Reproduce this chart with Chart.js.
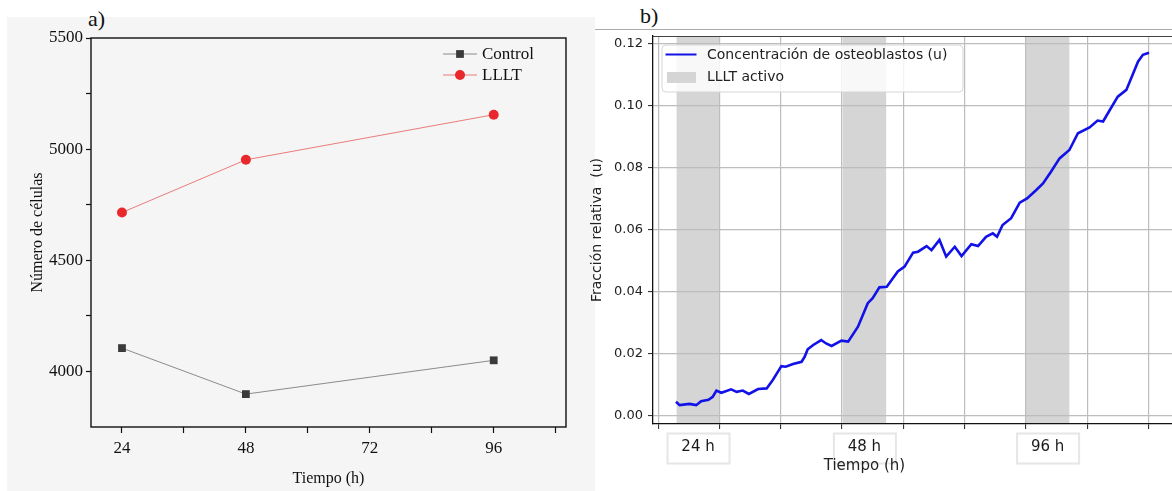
<!DOCTYPE html>
<html>
<head>
<meta charset="utf-8">
<script src="https://cdn.jsdelivr.net/npm/chart.js@4.4.0/dist/chart.umd.min.js"></script>
<style>
  body { margin: 0; width: 1172px; height: 491px; overflow: hidden; background: #fff; position: relative; }
  .abs { position: absolute; }
  .tag { position: absolute; font-family: 'Liberation Serif', serif; font-size: 22px; color: #111; line-height: 1; }
</style>
</head>
<body>
<div class="abs" style="left:7px;top:17px;width:588px;height:474px;background:#f5f5f5"></div>
<div class="abs" style="left:595px;top:29px;width:577px;border-top:1px solid #aaa"></div>
<div class="tag" style="left:88px;top:8px">a)</div>
<div class="tag" style="left:640px;top:5px">b)</div>
<canvas id="chartA" class="abs" width="580" height="491" style="left:0;top:0"></canvas>
<canvas id="chartB" class="abs" width="592" height="491" style="left:580px;top:0"></canvas>
<script>
// ---- panel a) : numero de celulas ----
const timeH = [24, 48, 96]
const controlCells = [4105, 3898, 4050]
const llltCells = [4715, 4952, 5155]
const xTicksA = [24, 36, 48, 60, 72, 84, 96, 108]
const yTicksA = [4000, 4250, 4500, 4750, 5000, 5250, 5500]

// ---- panel b) : fraccion relativa de osteoblastos ----
const curveX = [0.29, 0.35, 0.51, 0.62, 0.70, 0.82, 0.89, 0.95, 1.03, 1.19, 1.28, 1.38, 1.48, 1.63, 1.77,
  1.87, 2.01, 2.08, 2.20, 2.34, 2.39, 2.44, 2.53, 2.66, 2.74, 2.83, 2.99, 3.10, 3.26, 3.42,
  3.50, 3.61, 3.73, 3.91, 4.02, 4.16, 4.24, 4.38, 4.46, 4.59, 4.70, 4.84, 4.95, 5.11, 5.22,
  5.35, 5.46, 5.53, 5.62, 5.76, 5.90, 6.02, 6.17, 6.28, 6.41, 6.55, 6.71, 6.85, 7.04, 7.17,
  7.26, 7.37, 7.50, 7.64, 7.83, 7.91, 8.01]
const curveU = [0.0046, 0.0035, 0.0039, 0.0035, 0.0048, 0.0052, 0.0062, 0.0082, 0.0075, 0.0086, 0.0078, 0.0082, 0.0071, 0.0087, 0.0089,
  0.0116, 0.0161, 0.0159, 0.0168, 0.0175, 0.0191, 0.0215, 0.0229, 0.0245, 0.0234, 0.0226, 0.0243, 0.0240, 0.0288, 0.0364,
  0.0380, 0.0415, 0.0417, 0.0466, 0.0482, 0.0527, 0.0530, 0.0548, 0.0535, 0.0568, 0.0514, 0.0546, 0.0516, 0.0554, 0.0548,
  0.0578, 0.0589, 0.0578, 0.0616, 0.0638, 0.0688, 0.0702, 0.0729, 0.0750, 0.0788, 0.0831, 0.0858, 0.0912, 0.0931, 0.0953,
  0.0950, 0.0987, 0.1030, 0.1052, 0.1143, 0.1165, 0.1172]
const bandStart = [0.30, 3.01, 6.00]
const bandEnd = [1.00, 3.72, 6.71]
const bandLabels = ['24 h', '48 h', '96 h']
const xTicksB = [0, 1, 2, 3, 4, 5, 6, 7, 8]
const yTicksB = [0, 0.02, 0.04, 0.06, 0.08, 0.10, 0.12]

const serif = 'Liberation Serif'
const sans = 'DejaVu Sans'

// Cadre complet + legende style Origin
const frameLegendA = {
  id: 'frameLegendA',
  afterDraw(chart) {
    const { ctx, chartArea: a } = chart
    ctx.save()
    ctx.strokeStyle = '#111'
    ctx.lineWidth = 1.4
    ctx.strokeRect(a.left, a.top, a.right - a.left, a.bottom - a.top)

    const x0 = a.right - 123
    ctx.font = '17px "' + serif + '"'
    ctx.textBaseline = 'middle'
    chart.data.datasets.forEach((ds, i) => {
      const y = a.top + 16 + i * 21
      ctx.strokeStyle = ds.borderColor
      ctx.lineWidth = ds.borderWidth
      ctx.beginPath()
      ctx.moveTo(x0, y)
      ctx.lineTo(x0 + 34, y)
      ctx.stroke()
      ctx.fillStyle = ds.pointBackgroundColor
      ctx.beginPath()
      if (ds.pointStyle === 'rect') {
        const h = ds.pointRadius * Math.SQRT1_2
        ctx.rect(x0 + 17 - h, y - h, 2 * h, 2 * h)
      } else {
        ctx.arc(x0 + 17, y, ds.pointRadius, 0, Math.PI * 2)
      }
      ctx.fill()
      ctx.fillStyle = '#111'
      ctx.fillText(ds.label, x0 + 39, y + 1)
    })
    ctx.restore()
  }
}

new Chart(document.getElementById('chartA'), {
  type: 'line',
  data: {
    datasets: [
      {
        label: 'Control',
        data: timeH.map((t, i) => ({ x: t, y: controlCells[i] })),
        borderColor: '#707070',
        borderWidth: 0.8,
        pointStyle: 'rect',
        pointRadius: 5.5,
        pointBackgroundColor: '#3a3a3a',
        pointBorderWidth: 0
      },
      {
        label: 'LLLT',
        data: timeH.map((t, i) => ({ x: t, y: llltCells[i] })),
        borderColor: '#e65c5c',
        borderWidth: 0.8,
        pointStyle: 'circle',
        pointRadius: 5,
        pointBackgroundColor: '#e8282c',
        pointBorderWidth: 0
      }
    ]
  },
  options: {
    responsive: false,
    animation: false,
    layout: { padding: { left: 0, top: 38, right: 14, bottom: 0 } },
    plugins: { legend: { display: false }, tooltip: { enabled: false } },
    scales: {
      x: {
        type: 'linear', min: 18, max: 110,
        afterBuildTicks: s => { s.ticks = xTicksA.map(v => ({ value: v })) },
        afterFit: s => { s.height = 64 },
        ticks: {
          autoSkip: false, maxRotation: 0, padding: 5, color: '#111',
          font: { family: serif, size: 17 },
          callback: v => (v % 24 === 0 ? v : '')
        },
        grid: { drawOnChartArea: false, tickLength: 6, tickColor: '#111', tickWidth: 1.2 },
        border: { display: false },
        title: { display: true, text: 'Tiempo (h)', color: '#111', font: { family: serif, size: 16 }, padding: { top: 0, bottom: 3 } }
      },
      y: {
        type: 'linear', min: 3750, max: 5500,
        afterBuildTicks: s => { s.ticks = yTicksA.map(v => ({ value: v })) },
        afterFit: s => { s.width = 91 },
        ticks: {
          autoSkip: false, padding: 3, color: '#111',
          font: { family: serif, size: 17 },
          callback: v => (v % 500 === 0 ? v : '')
        },
        grid: { drawOnChartArea: false, tickLength: 5, tickColor: '#111', tickWidth: 1.2 },
        border: { display: false },
        title: { display: true, text: 'Número de células', color: '#111', font: { family: serif, size: 16 }, padding: { top: 28, bottom: 0 } }
      }
    }
  },
  plugins: [frameLegendA]
})

// Bandes grises "LLLT activo", sous la grille
const bandsB = {
  id: 'bandsB',
  beforeDraw(chart) {
    const { ctx, chartArea: a, scales: { x } } = chart
    ctx.save()
    ctx.fillStyle = '#d5d5d5'
    bandStart.forEach((s, i) => {
      const x0 = x.getPixelForValue(s)
      const x1 = x.getPixelForValue(bandEnd[i])
      ctx.fillRect(x0, a.top, x1 - x0, a.bottom - a.top)
    })
    ctx.restore()
  }
}

// Legende matplotlib, etiquettes 24/48/96 h, titre x, bord superieur
const decorB = {
  id: 'decorB',
  afterDraw(chart) {
    const { ctx, chartArea: a, scales: { x } } = chart
    ctx.save()
    ctx.strokeStyle = '#444'
    ctx.lineWidth = 1.2
    ctx.beginPath()
    ctx.moveTo(a.left, a.top + 0.5)
    ctx.lineTo(a.right, a.top + 0.5)
    ctx.stroke()

    // legende
    const bx = a.left + 9, by = a.top + 9, bw = 301, bh = 47
    ctx.fillStyle = 'rgba(255,255,255,0.82)'
    ctx.strokeStyle = '#d6d6d6'
    ctx.lineWidth = 1
    ctx.beginPath()
    ctx.roundRect(bx, by, bw, bh, 4)
    ctx.fill()
    ctx.stroke()
    const ds = chart.data.datasets[0]
    ctx.strokeStyle = ds.borderColor
    ctx.lineWidth = 2
    ctx.beginPath()
    ctx.moveTo(bx + 3.5, by + 9.5)
    ctx.lineTo(bx + 34.5, by + 9.5)
    ctx.stroke()
    ctx.fillStyle = '#d5d5d5'
    ctx.fillRect(bx + 5, by + 27, 29, 11)
    ctx.fillStyle = '#222'
    ctx.font = '14px "' + sans + '"'
    ctx.textBaseline = 'middle'
    ctx.fillText(ds.label, bx + 45, by + 10)
    ctx.fillText('LLLT activo', bx + 45, by + 32)

    // etiquettes sous les bandes
    ctx.font = '15px "' + sans + '"'
    ctx.textAlign = 'center'
    const centers = bandStart.map((s, i) => x.getPixelForValue((s + bandEnd[i]) / 2))
    centers.forEach((cx, i) => {
      const top = a.bottom + 9
      ctx.fillStyle = '#fff'
      ctx.fillRect(cx - 31, top, 62, 30)
      ctx.strokeStyle = '#e6e6e6'
      ctx.strokeRect(cx - 31 + 0.5, top + 0.5, 62, 30)
      ctx.fillStyle = '#1a1a1a'
      ctx.fillText(bandLabels[i], cx, top + 14)
    })

    // titre de l'axe x, centre sous l'etiquette du milieu
    ctx.fillStyle = '#222'
    ctx.fillText('Tiempo (h)', centers[1], a.bottom + 42)
    ctx.restore()
  }
}

new Chart(document.getElementById('chartB'), {
  type: 'line',
  data: {
    datasets: [{
      label: 'Concentración de osteoblastos (u)',
      data: curveX.map((t, i) => ({ x: t, y: curveU[i] })),
      borderColor: 'rgb(18,18,232)',
      borderWidth: 2.6,
      pointRadius: 0,
      tension: 0
    }]
  },
  options: {
    responsive: false,
    animation: false,
    layout: { padding: { left: 0, top: 36, right: 0, bottom: 0 } },
    plugins: { legend: { display: false }, tooltip: { enabled: false } },
    scales: {
      x: {
        type: 'linear', min: -0.085, max: 8.385,
        afterBuildTicks: s => { s.ticks = xTicksB.map(v => ({ value: v })) },
        afterFit: s => { s.height = 67 },
        ticks: { display: false },
        grid: { color: '#bdbdbd', lineWidth: 1.2, tickLength: 5, tickColor: '#222', tickWidth: 1 },
        border: { color: '#111', width: 1.3 }
      },
      y: {
        type: 'linear', min: -0.00258, max: 0.12258,
        afterBuildTicks: s => { s.ticks = yTicksB.map(v => ({ value: v })) },
        afterFit: s => { s.width = 73 },
        ticks: {
          autoSkip: false, padding: 5, color: '#222',
          font: { family: sans, size: 13 },
          callback: v => v.toFixed(2)
        },
        grid: { color: '#bdbdbd', lineWidth: 1.2, tickLength: 5, tickColor: '#222', tickWidth: 1 },
        border: { color: '#111', width: 1.3 },
        title: { display: true, text: 'Fracción relativa  (u)', color: '#222', font: { family: sans, size: 14 }, padding: { top: 8.6, bottom: 0 } }
      }
    }
  },
  plugins: [bandsB, decorB]
})
</script>
</body>
</html>
